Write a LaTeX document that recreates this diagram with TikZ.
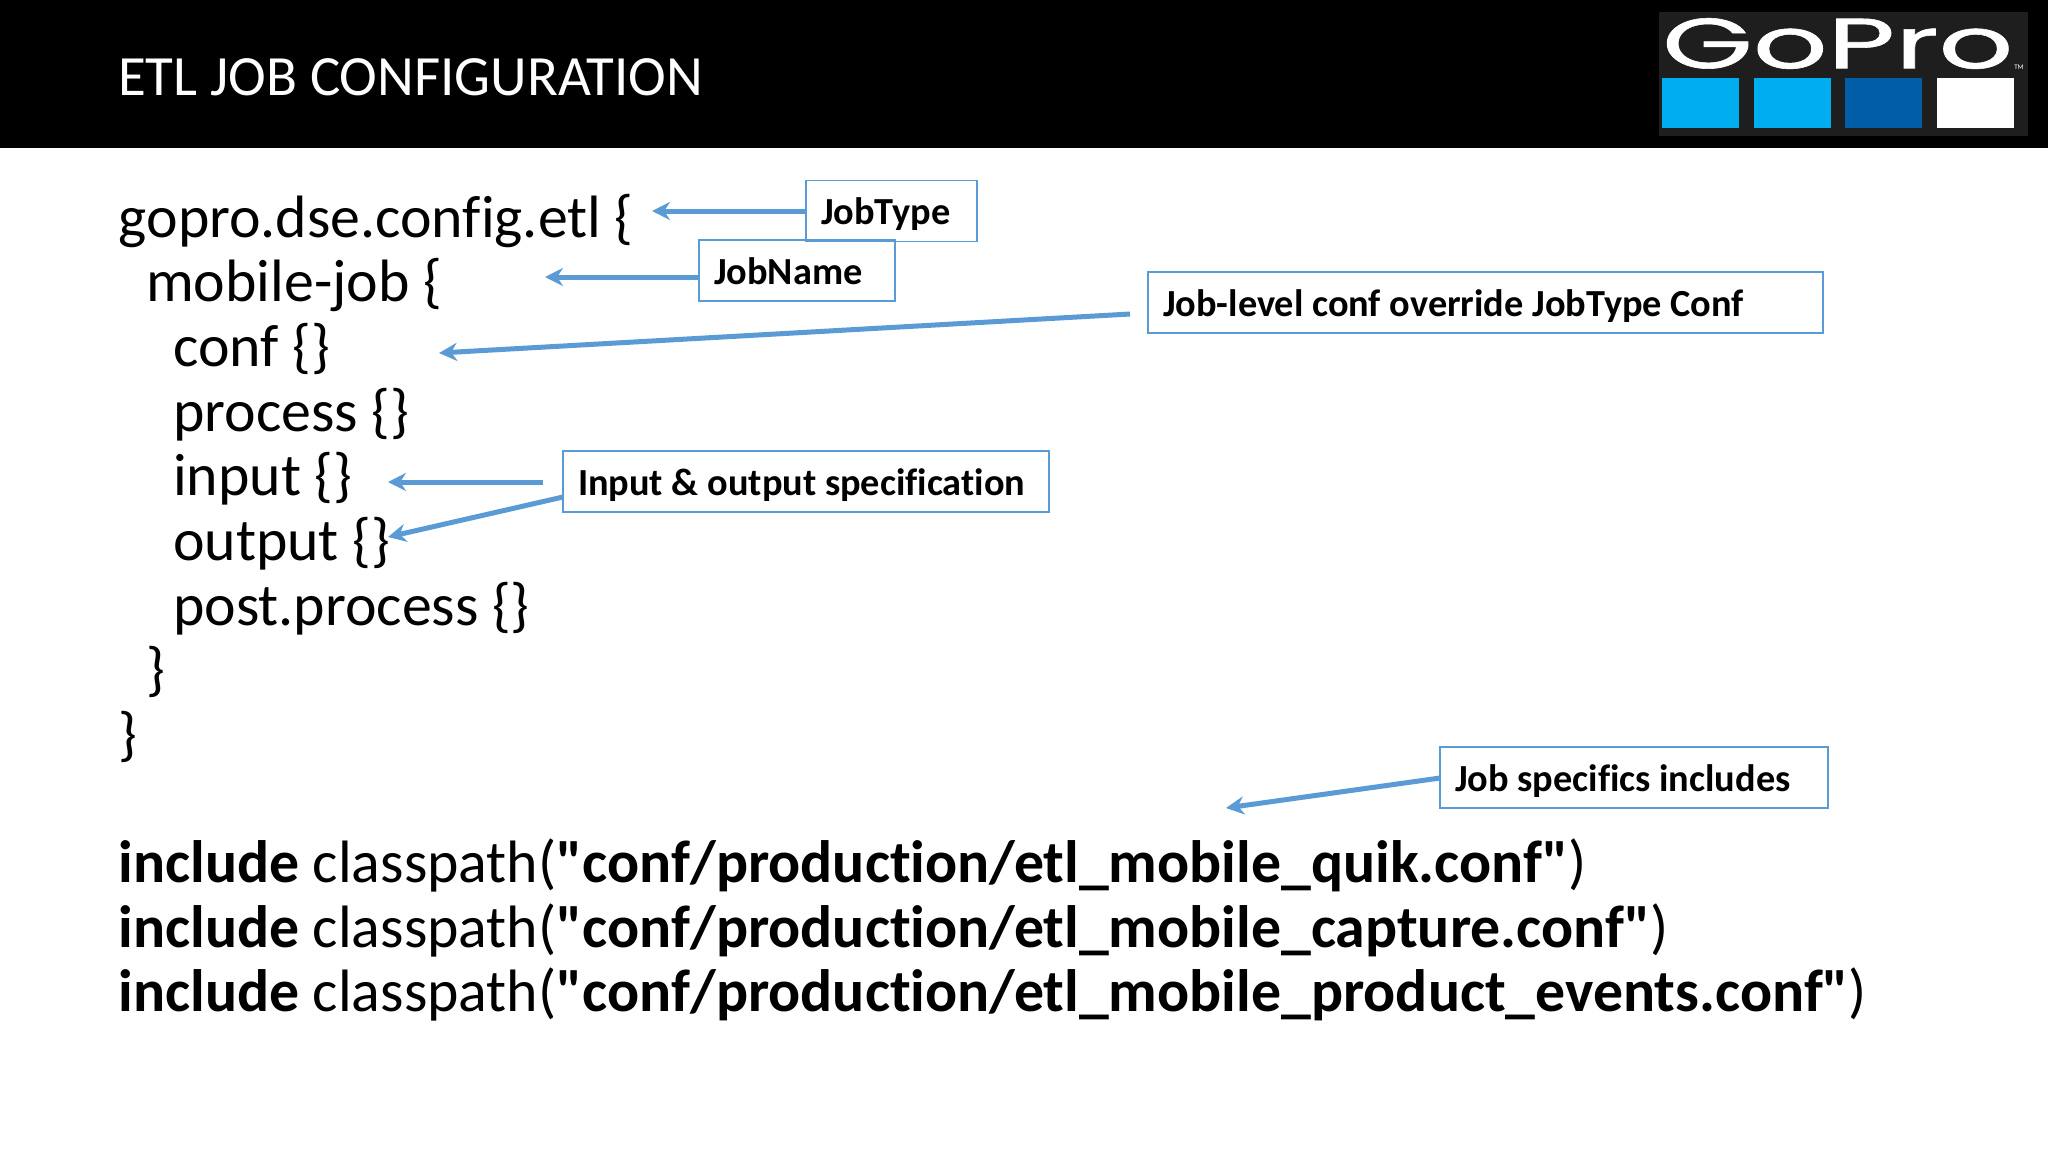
\documentclass[tikz,border=0pt]{standalone}
\usepackage{graphicx}
\usepackage{fontspec}
\newfontfamily\slidefont{Carlito}[Ligatures=NoCommon]
\newfontfamily\logofont{Poppins}[FakeBold=0.8]
\usetikzlibrary{arrows.meta}
\definecolor{calloutblue}{HTML}{5B9BD5}
\definecolor{logogrey}{HTML}{1E1E1E}
\definecolor{logocyan}{HTML}{00ADEF}
\definecolor{logonavy}{HTML}{005DA6}
\tikzset{
  codeline/.style={anchor=base west,inner sep=0pt,font=\slidefont\fontsize{59.8}{64}\selectfont},
  labelbox/.style={draw=calloutblue,line width=1.5pt,anchor=north west,align=flush left,outer sep=0pt,
    inner xsep=15pt,inner ysep=0pt,minimum height=61pt,text height=31pt,text depth=4pt,
    font=\slidefont\fontsize{38.3}{44}\selectfont\bfseries},
  callout/.style={draw=calloutblue,line width=5pt,-{Stealth[length=18pt,width=18pt]}},
  logosquare/.style={draw=none,minimum width=77pt,minimum height=50pt,inner sep=0pt,anchor=north west}
}
\begin{document}
\begin{tikzpicture}[x=1pt,y=-1pt]
  \useasboundingbox (0,0) rectangle (2048,1152);
  \fill[white] (0,0) rectangle (2048,1152);
  % Title band
  \fill[black] (0,0) rectangle (2048,148);
  \node[anchor=base west,inner sep=0pt,text=white,font=\slidefont\fontsize{56.9}{64}\selectfont] (title) at (118,95.5) {ETL JOB CONFIGURATION};
  % Logo
  \fill[logogrey] (1659,12) rectangle (2028,136);
  \node[inner sep=0pt,anchor=north west,text=white] (logotext) at (1662,18)
    {\resizebox{351pt}{50pt}{\logofont GoPro}};
  \node[inner sep=0pt,text=white,font=\slidefont\fontsize{7}{8}\selectfont] (logotm) at (2019,67) {TM};
  \node[logosquare,fill=logocyan] (squareone) at (1662,78) {};
  \node[logosquare,fill=logocyan] (squaretwo) at (1754,78) {};
  \node[logosquare,fill=logonavy] (squarethree) at (1845,78) {};
  \node[logosquare,fill=white] (squarefour) at (1937,78) {};
  % Config block
  \node[codeline] (jobtype) at (118.5,237.5) {gopro.dse.config.etl \{};
  \node[codeline] (jobname) at (146,301.7) {mobile-job \{};
  \node[codeline] (conf) at (173,366.4) {conf \{\}};
  \node[codeline] (process) at (173,431.1) {process \{\}};
  \node[codeline] (input) at (173,495.8) {input \{\}};
  \node[codeline] (output) at (173,560.5) {output \{\}};
  \node[codeline] (post) at (173,625.2) {post.process \{\}};
  \node[codeline] (closeinner) at (146,689.9) {\}};
  \node[codeline] (closeouter) at (118.5,754.6) {\}};
  % Includes
  \node[codeline] (quik) at (118.5,882.5) {\textbf{include} classpath(\textbf{"conf/production/etl\_mobile\_quik.conf"})};
  \node[codeline] (capture) at (118.5,947.2) {\textbf{include} classpath(\textbf{"conf/production/etl\_mobile\_capture.conf"})};
  \node[codeline] (events) at (118.5,1011.9) {\textbf{include} classpath(\textbf{"conf/production/etl\_mobile\_product\_events.conf"})};
  % Callout boxes
  \node[labelbox,text width=141pt] (typebox) at (806,180.5) {JobType};
  \node[labelbox,text width=166pt] (namebox) at (699,240) {JobName};
  \node[labelbox,text width=645pt] (confbox) at (1148,272) {Job-level conf override JobType Conf};
  \node[labelbox,text width=456pt] (iobox) at (563,451) {Input \& output specification};
  \node[labelbox,text width=358pt] (specbox) at (1440,747) {Job specifics includes};
  % Free ends
  \coordinate (typetip) at (652,211);
  \coordinate (nametip) at (545,277);
  \coordinate (conftail) at (1130,314);
  \coordinate (conftip) at (439,353);
  \coordinate (inputtail) at (543,482);
  \coordinate (inputtip) at (388,482);
  \coordinate (outputtail) at (563,497);
  \coordinate (outputtip) at (388,537);
  \coordinate (spectail) at (1440,778);
  \coordinate (spectip) at (1226,808);
  % Arrows
  \draw[callout] (typebox.west) -- (typetip);
  \draw[callout] (namebox.west |- nametip) -- (nametip);
  \draw[callout] (conftail) -- (conftip);
  \draw[callout] (inputtail) -- (inputtip);
  \draw[callout] (outputtail) -- (outputtip);
  \draw[callout] (spectail) -- (spectip);
\end{tikzpicture}
\end{document}
